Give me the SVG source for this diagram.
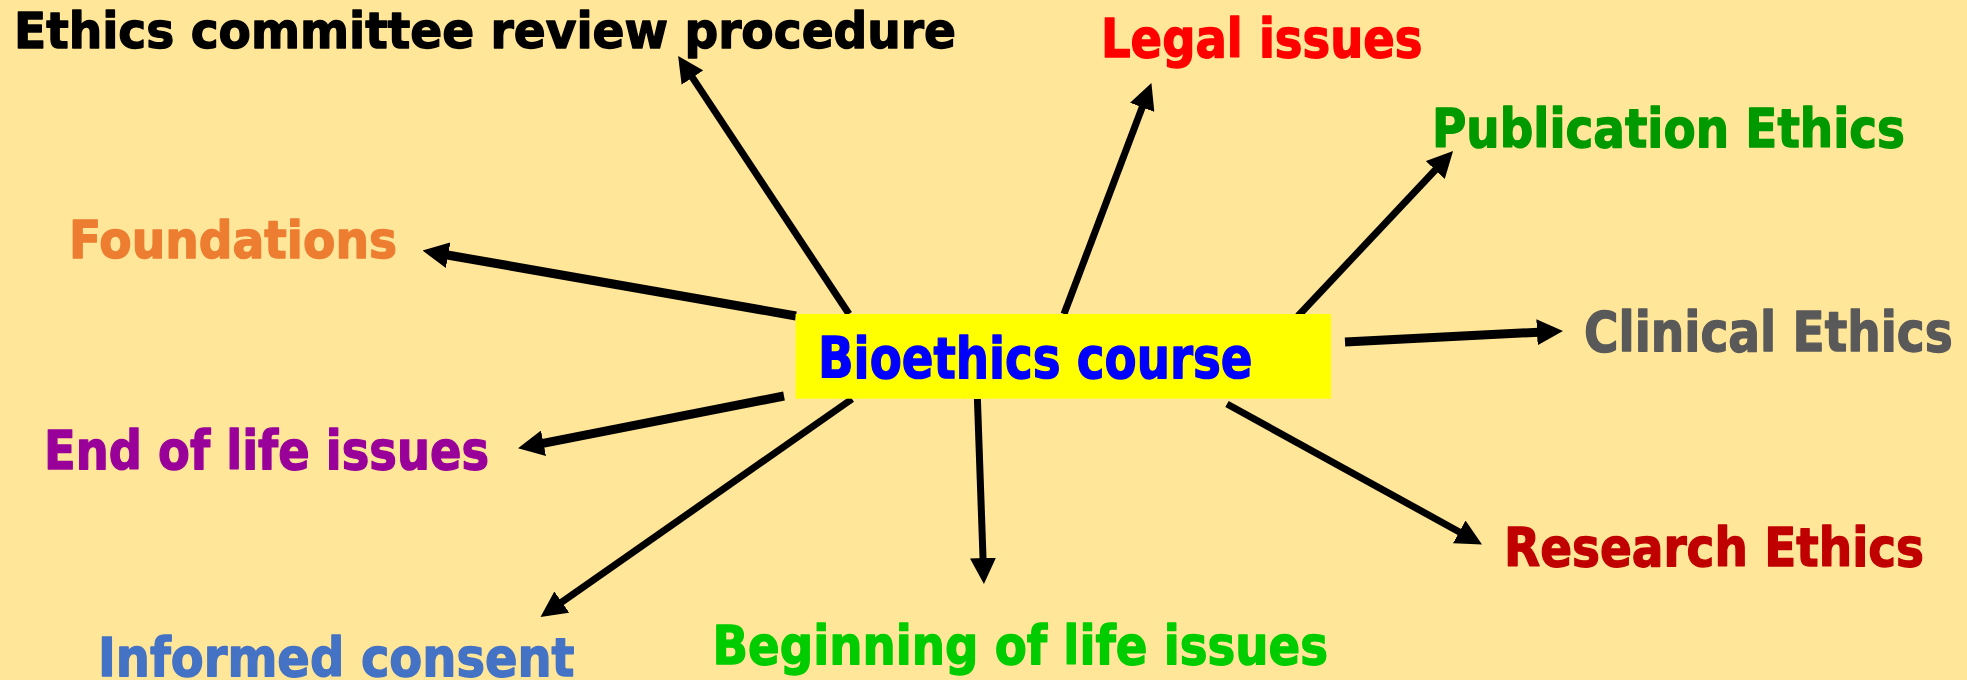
<svg xmlns="http://www.w3.org/2000/svg" width="1967" height="680" viewBox="0 0 1967 680">
<defs>
<style>
text{font-family:"DejaVu Sans","Verdana",sans-serif;font-weight:bold;stroke-width:1.4;stroke-linejoin:round;}
.c{stroke:#000;fill:none;stroke-width:7;marker-end:url(#ah);}
.t{stroke-width:9;}
</style>
<marker id="ah" viewBox="0 0 26 26" markerUnits="userSpaceOnUse" markerWidth="26" markerHeight="26" refX="11" refY="13" orient="auto">
<path d="M0,0 L26,13 L0,26 z" fill="#000"/>
</marker>
</defs>
<rect width="1967" height="680" fill="#FFE699"/>
<g id="connectors">
<line class="c" x1="849" y1="314" x2="686.4" y2="68.4"/>
<line class="c" x1="1064" y1="314" x2="1146.1" y2="97"/>
<line class="c" x1="1298" y1="316" x2="1442.8" y2="162"/>
<line class="c t" x1="1345" y1="342" x2="1548" y2="331.7"/>
<line class="c" x1="1227" y1="404" x2="1468.9" y2="537.2"/>
<line class="c" x1="977.4" y1="399" x2="983.4" y2="569"/>
<line class="c" x1="852" y1="399" x2="552.8" y2="608.4"/>
<line class="c t" x1="784" y1="396" x2="532.7" y2="445.4"/>
<line class="c t" x1="796" y1="316" x2="437.3" y2="253.2"/>
</g>
<g id="center">
<rect x="795.6" y="314" width="535.4" height="84.7" fill="#FFFF00"/>
<text x="818" y="378.3" font-size="57" fill="#0000FF" stroke="#0000FF" textLength="434.5" lengthAdjust="spacingAndGlyphs">Bioethics course</text>
</g>
<g id="ecrp"><text x="14" y="48.3" font-size="50" fill="#000" stroke="#000" textLength="942" lengthAdjust="spacingAndGlyphs">Ethics committee review procedure</text></g>
<g id="legal"><text x="1101" y="57.3" font-size="53.5" fill="#FF0000" stroke="#FF0000" textLength="321.5" lengthAdjust="spacingAndGlyphs">Legal issues</text></g>
<g id="publication"><text x="1432" y="146.7" font-size="52.7" fill="#009900" stroke="#009900" textLength="473" lengthAdjust="spacingAndGlyphs">Publication Ethics</text></g>
<g id="foundations"><text x="69" y="258.3" font-size="51.6" fill="#ED7D31" stroke="#ED7D31" textLength="328" lengthAdjust="spacingAndGlyphs">Foundations</text></g>
<g id="clinical"><text x="1584" y="350.7" font-size="55" fill="#595959" stroke="#595959" textLength="368.7" lengthAdjust="spacingAndGlyphs">Clinical Ethics</text></g>
<g id="endoflife"><text x="44" y="469.3" font-size="54" fill="#990099" stroke="#990099" textLength="445" lengthAdjust="spacingAndGlyphs">End of life issues</text></g>
<g id="research"><text x="1504" y="566" font-size="54" fill="#C00000" stroke="#C00000" textLength="420" lengthAdjust="spacingAndGlyphs">Research Ethics</text></g>
<g id="beginning"><text x="712.5" y="664" font-size="53.5" fill="#00CC00" stroke="#00CC00" textLength="615.5" lengthAdjust="spacingAndGlyphs">Beginning of life issues</text></g>
<g id="informed"><text x="98" y="676" font-size="53.5" fill="#4472C4" stroke="#4472C4" textLength="476.5" lengthAdjust="spacingAndGlyphs">Informed consent</text></g>
</svg>
